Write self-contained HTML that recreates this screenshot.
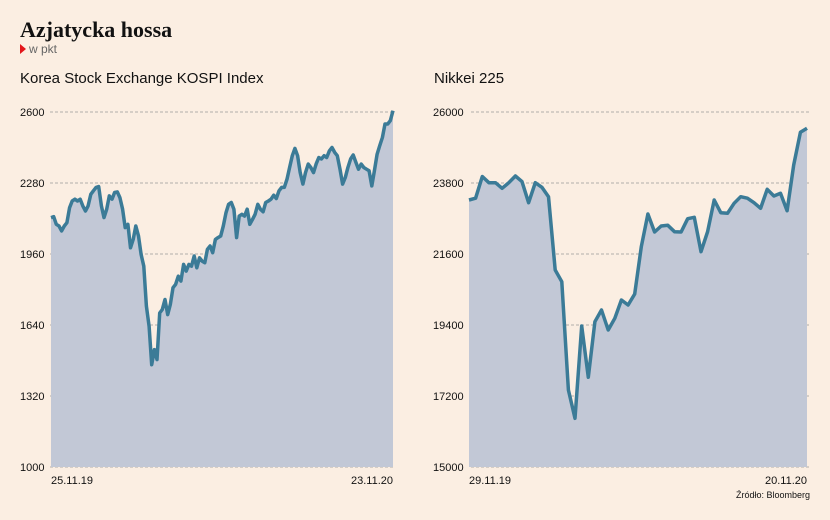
<!DOCTYPE html>
<html><head><meta charset="utf-8"><style>
body{margin:0;background:#fbeee2;font-family:"Liberation Sans",sans-serif;}
svg{display:block}
</style></head><body>
<svg width="830" height="520">
<rect width="830" height="520" fill="#fbeee2"/>
<text x="20" y="37" font-family="Liberation Serif,serif" font-weight="bold" font-size="22" fill="#111">Azjatycka hossa</text>
<polygon points="20,44 26,49 20,54" fill="#e3161b"/>
<text x="29" y="53" font-size="12" fill="#666">w pkt</text>
<text x="20" y="83" font-size="15" fill="#111">Korea Stock Exchange KOSPI Index</text>
<text x="434" y="83" font-size="15" fill="#111">Nikkei 225</text>
<g id="left"></g><g id="right"></g>
<text x="51" y="484" font-size="11" fill="#111">25.11.19</text>
<text x="393" y="484" font-size="11" fill="#111" text-anchor="end">23.11.20</text>
<text x="469" y="484" font-size="11" fill="#111">29.11.19</text>
<text x="807" y="484" font-size="11" fill="#111" text-anchor="end">20.11.20</text>
<text x="810" y="498" font-size="9" fill="#111" text-anchor="end">Źródło: Bloomberg</text>
</svg>
<script>
const kospiTicks=[1000,1320,1640,1960,2280,2600];
const kospiValues=[2124,2128,2094,2086,2064,2086,2101,2169,2199,2207,2199,2207,2177,2154,2177,2229,2245,2260,2264,2177,2124,2162,2222,2207,2237,2240,2214,2162,2079,2094,1988,2026,2086,2041,1958,1905,1725,1634,1461,1529,1484,1694,1710,1755,1687,1732,1808,1823,1860,1838,1913,1883,1913,1905,1951,1898,1943,1928,1921,1981,1996,1966,2026,2034,2041,2086,2146,2184,2192,2162,2034,2131,2139,2131,2162,2094,2116,2139,2184,2162,2150,2192,2199,2207,2225,2210,2245,2260,2260,2297,2350,2403,2436,2403,2327,2275,2327,2365,2350,2327,2365,2395,2388,2403,2395,2425,2440,2418,2403,2342,2275,2305,2350,2388,2406,2373,2342,2365,2350,2342,2335,2267,2335,2410,2448,2485,2546,2546,2561,2606];
const nikkeiTicks=[15000,17200,19400,21600,23800,26000];
const nikkeiValues=[23273,23330,24000,23810,23810,23635,23810,24017,23842,23190,23810,23666,23377,21104,20743,17386,16508,19369,17778,19503,19865,19245,19607,20175,20020,20361,21827,22840,22282,22468,22489,22292,22282,22695,22736,21672,22292,23273,22881,22860,23170,23377,23330,23190,23015,23604,23397,23480,22943,24358,25370,25494];
const NS="http://www.w3.org/2000/svg";
function mk(t,a,p){const e=document.createElementNS(NS,t);for(const k in a)e.setAttribute(k,a[k]);p.appendChild(e);return e;}
function draw(g,vals,ticks,x0,x1,labelX,nm){
 const y0=467,y1=112,mn=ticks[0],mx=ticks[ticks.length-1];
 const ys=v=>y0-(v-mn)/(mx-mn)*(y0-y1);
 const xs=i=>x0+i/(vals.length-1)*(x1-x0);
 ticks.forEach(t=>{
  const l=mk('line',{x1:labelX+(t>=10000?38:30),x2:x1+2,y1:ys(t),y2:ys(t),stroke:'#999','stroke-dasharray':'3,2','stroke-width':0.8},g);
  
  
  const tx=mk('text',{x:labelX,y:ys(t)+4,'font-size':11,fill:'#111'},g);tx.textContent=t;
  
  
 });
 const pts=vals.map((v,i)=>xs(i).toFixed(1)+','+ys(v).toFixed(1));
 const a=mk('polygon',{points:x0+','+y0+' '+pts.join(' ')+' '+x1+','+y0,fill:'#c2c8d6'},g);
 
 
 const p=mk('polyline',{points:pts.join(' '),fill:'none',stroke:'#3b7b97','stroke-width':3.5,'stroke-linejoin':'round'},g);
 
 
}
draw(document.getElementById('left'),kospiValues,kospiTicks,51,393,20,'kospi');
draw(document.getElementById('right'),nikkeiValues,nikkeiTicks,469,807,433,'nikkei');
</script>
</body></html>
